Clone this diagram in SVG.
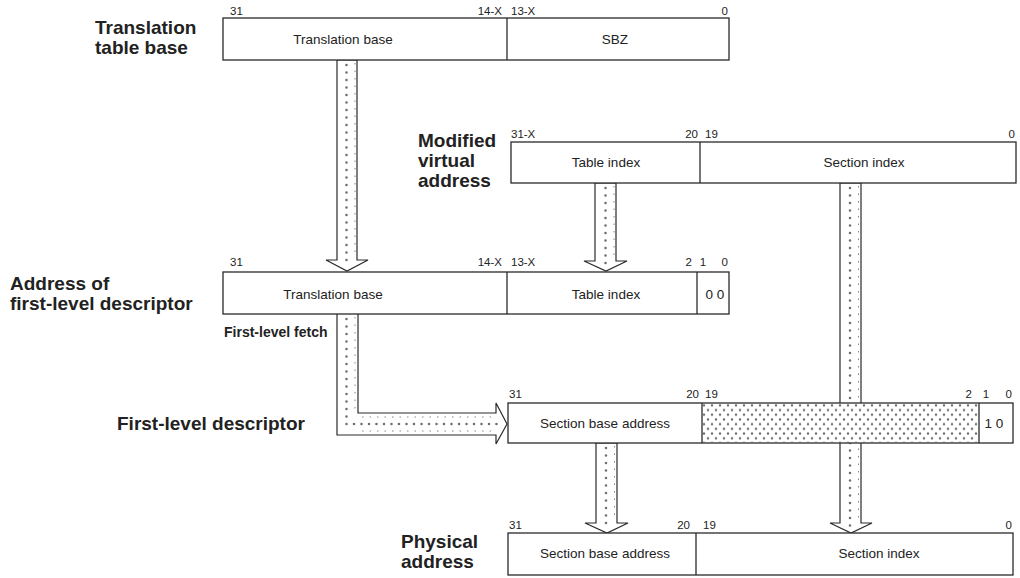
<svg xmlns="http://www.w3.org/2000/svg" width="1020" height="578" viewBox="0 0 1020 578">
<style>
.box{fill:#fff;stroke:#2a2a2a;stroke-width:1.3}
.div{stroke:#2a2a2a;stroke-width:1.3}
.arr{fill:#fff;stroke:#2a2a2a;stroke-width:1.2;stroke-linejoin:miter}
.dot{fill:none;stroke:#707070;stroke-width:2.6;stroke-linecap:round;stroke-dasharray:0 7.5}
.tick{fill:none;stroke:#888;stroke-width:1;stroke-dasharray:1.5 6}
.big{font-family:"Liberation Sans",Arial,sans-serif;font-weight:bold;font-size:19px;fill:#222}
.lbl{font-family:"Liberation Sans",Arial,sans-serif;font-size:13.5px;fill:#222}
.bit{font-family:"Liberation Sans",Arial,sans-serif;font-size:11.5px;fill:#222}
.fetch{font-family:"Liberation Sans",Arial,sans-serif;font-weight:bold;font-size:14px;fill:#222}
</style>
<defs>
<pattern id="stip" patternUnits="userSpaceOnUse" x="702" y="403" width="8" height="9.4">
<circle cx="2" cy="2.3" r="1.15" fill="#666"/>
<circle cx="6" cy="7" r="1.15" fill="#666"/>
</pattern>
</defs>

<!-- Connectors -->
<g id="connectors">
<g id="arrow-ttb">
<polygon class="arr" points="337,60 337,260 326,260 347,271 368,260 357,260 357,60"/>
<line class="dot" x1="346.5" y1="65" x2="346.5" y2="262"/>
<line class="tick" x1="355" y1="63" x2="355" y2="258"/>
</g>
<g id="arrow-tableindex">
<polygon class="arr" points="595,183 595,261 584,261 606,271 627,261 616,261 616,183"/>
<line class="dot" x1="605.5" y1="188" x2="605.5" y2="264"/>
<line class="tick" x1="614" y1="186" x2="614" y2="259"/>
</g>
<g id="arrow-sectionindex">
<polygon class="arr" points="840,183 840,523 830,523 851,533 872,523 861,523 861,183"/>
<line class="dot" x1="850" y1="188" x2="850" y2="526"/>
<line class="tick" x1="858.5" y1="186" x2="858.5" y2="521"/>
</g>
<g id="arrow-fetch">
<path class="arr" d="M337,314 L337,435 L496,435 L496,444 L507,424 L496,403 L496,413 L358,413 L358,314"/>
<polyline class="dot" points="346.5,319 346.5,424 502,424"/>
<line class="tick" x1="355" y1="317" x2="355" y2="410"/>
<line class="tick" x1="362" y1="431" x2="494" y2="431"/>
<line class="tick" x1="362" y1="417" x2="494" y2="417"/>
</g>
<g id="arrow-sectionbase">
<polygon class="arr" points="596,443 596,523 585,523 607,533 628,523 617,523 617,443"/>
<line class="dot" x1="606" y1="448" x2="606" y2="526"/>
<line class="tick" x1="614.5" y1="446" x2="614.5" y2="521"/>
</g>
</g>

<!-- Translation table base -->
<g id="ttb">
<text class="big" x="95" y="34">Translation</text>
<text class="big" x="95" y="54">table base</text>
<rect class="box" x="223" y="18" width="506" height="42"/>
<line class="div" x1="507" y1="18" x2="507" y2="60"/>
<text class="lbl" x="343" y="44" text-anchor="middle">Translation base</text>
<text class="lbl" x="615" y="44" text-anchor="middle">SBZ</text>
<text class="bit" x="230" y="15">31</text>
<text class="bit" x="502" y="15" text-anchor="end">14-X</text>
<text class="bit" x="511" y="15">13-X</text>
<text class="bit" x="728" y="15" text-anchor="end">0</text>
</g>

<!-- Modified virtual address -->
<g id="mva">
<text class="big" x="418" y="147">Modified</text>
<text class="big" x="418" y="167">virtual</text>
<text class="big" x="418" y="187">address</text>
<rect class="box" x="511" y="142" width="505" height="41"/>
<line class="div" x1="700" y1="142" x2="700" y2="183"/>
<text class="lbl" x="606" y="167" text-anchor="middle">Table index</text>
<text class="lbl" x="864" y="167" text-anchor="middle">Section index</text>
<text class="bit" x="511" y="138">31-X</text>
<text class="bit" x="698" y="138" text-anchor="end">20</text>
<text class="bit" x="705" y="138">19</text>
<text class="bit" x="1015" y="138" text-anchor="end">0</text>
</g>

<!-- Address of first-level descriptor -->
<g id="afld">
<text class="big" x="10" y="290">Address of</text>
<text class="big" x="10" y="310">first-level descriptor</text>
<rect class="box" x="223" y="272" width="506" height="42"/>
<line class="div" x1="507" y1="272" x2="507" y2="314"/>
<line class="div" x1="697" y1="272" x2="697" y2="314"/>
<text class="lbl" x="333" y="299" text-anchor="middle">Translation base</text>
<text class="lbl" x="606" y="299" text-anchor="middle">Table index</text>
<text class="lbl" x="715" y="299" text-anchor="middle">0 0</text>
<text class="bit" x="230" y="266">31</text>
<text class="bit" x="502" y="266" text-anchor="end">14-X</text>
<text class="bit" x="511" y="266">13-X</text>
<text class="bit" x="692" y="266" text-anchor="end">2</text>
<text class="bit" x="703" y="266" text-anchor="middle">1</text>
<text class="bit" x="728" y="266" text-anchor="end">0</text>
<text class="fetch" x="224" y="337">First-level fetch</text>
</g>

<!-- First-level descriptor -->
<g id="fld">
<text class="big" x="117" y="430">First-level descriptor</text>
<rect class="box" x="508" y="403" width="505" height="40"/>
<rect x="702" y="403" width="277" height="40" fill="url(#stip)"/>
<line class="div" x1="702" y1="403" x2="702" y2="443"/>
<line class="div" x1="979" y1="403" x2="979" y2="443"/>
<text class="lbl" x="605" y="428" text-anchor="middle">Section base address</text>
<text class="lbl" x="994" y="428" text-anchor="middle">1 0</text>
<text class="bit" x="509" y="398">31</text>
<text class="bit" x="699" y="398" text-anchor="end">20</text>
<text class="bit" x="705" y="398">19</text>
<text class="bit" x="972" y="398" text-anchor="end">2</text>
<text class="bit" x="986" y="398" text-anchor="middle">1</text>
<text class="bit" x="1012" y="398" text-anchor="end">0</text>
</g>

<!-- Physical address -->
<g id="pa">
<text class="big" x="401" y="548">Physical</text>
<text class="big" x="401" y="568">address</text>
<rect class="box" x="508" y="533" width="505" height="42"/>
<line class="div" x1="696" y1="533" x2="696" y2="575"/>
<text class="lbl" x="605" y="558" text-anchor="middle">Section base address</text>
<text class="lbl" x="879" y="558" text-anchor="middle">Section index</text>
<text class="bit" x="509" y="529">31</text>
<text class="bit" x="690" y="529" text-anchor="end">20</text>
<text class="bit" x="703" y="529">19</text>
<text class="bit" x="1012" y="529" text-anchor="end">0</text>
</g>
</svg>
